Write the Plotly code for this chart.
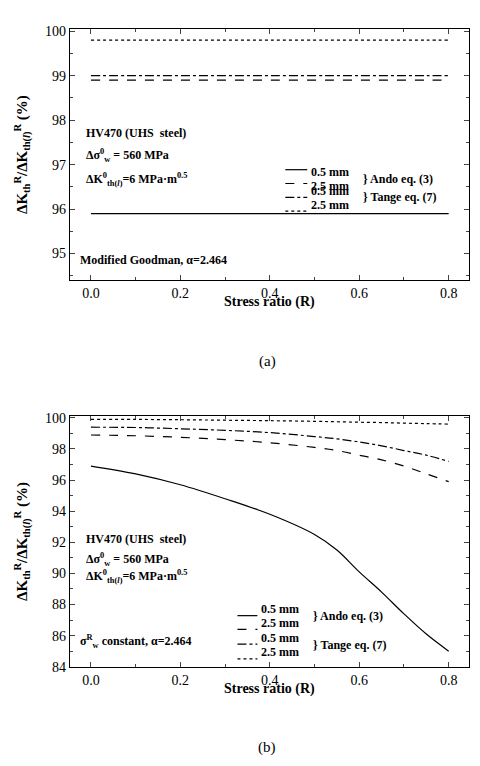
import plotly.graph_objects as go

R = [0.0, 0.1, 0.2, 0.3, 0.4, 0.5, 0.55, 0.6, 0.65, 0.7, 0.75, 0.8]
a_ando05 = [95.9]*len(R)
a_ando25 = [98.9]*len(R)
a_tange05 = [99.0]*len(R)
a_tange25 = [99.8]*len(R)
b_ando05 = [96.9, 96.4, 95.7, 94.8, 93.8, 92.5, 91.5, 90.1, 88.8, 87.4, 86.1, 85.0]
b_ando25 = [98.9, 98.85, 98.75, 98.6, 98.4, 98.1, 97.9, 97.6, 97.3, 96.9, 96.4, 95.9]
b_tange05 = [99.4, 99.38, 99.3, 99.2, 99.05, 98.8, 98.65, 98.45, 98.2, 97.9, 97.6, 97.2]
b_tange25 = [99.9, 99.9, 99.88, 99.85, 99.82, 99.78, 99.75, 99.72, 99.7, 99.66, 99.63, 99.6]

F = "Liberation Serif"
fig = go.Figure()
styles = ["solid", "dash", "dashdot", "dot"]
for ys, ax in [((a_ando05, a_ando25, a_tange05, a_tange25), ("x", "y")),
               ((b_ando05, b_ando25, b_tange05, b_tange25), ("x2", "y2"))]:
    for y, d in zip(ys, styles):
        fig.add_trace(go.Scatter(x=R, y=y, mode="lines", xaxis=ax[0], yaxis=ax[1],
                                 line=dict(color="black", width=1.2, dash=d, shape="spline"),
                                 showlegend=False))

axcommon = dict(showline=True, linecolor="black", linewidth=1, mirror="ticks", ticks="inside",
                ticklen=5, showgrid=False, zeroline=False,
                tickfont=dict(family=F, size=14, color="black"))
fig.update_layout(
    width=480, height=766, margin=dict(l=0, r=0, t=0, b=0),
    plot_bgcolor="white", paper_bgcolor="white",
    xaxis=dict(domain=[0.129, 0.960], anchor="y", range=[-0.047, 0.845], dtick=0.2, tickformat=".1f",
               minor=dict(dtick=0.1, ticks="inside", ticklen=3), **axcommon),
    yaxis=dict(domain=[0.646, 0.980], anchor="x", range=[94.4, 100.05], dtick=1,
               minor=dict(dtick=0.5, ticks="inside", ticklen=3), **axcommon),
    xaxis2=dict(domain=[0.129, 0.960], anchor="y2", range=[-0.047, 0.845], dtick=0.2, tickformat=".1f",
                minor=dict(dtick=0.1, ticks="inside", ticklen=3), **axcommon),
    yaxis2=dict(domain=[0.132, 0.465], anchor="x2", range=[84, 100.1], dtick=2,
                minor=dict(dtick=1, ticks="inside", ticklen=3), **axcommon),
)

def ann(x, y, text, size=13, xa="left", angle=0, bold=True):
    t = f"<b>{text}</b>" if bold else text
    fig.add_annotation(x=x, y=y, xref="paper", yref="paper", text=t, showarrow=False, xanchor=xa,
                       yanchor="middle", textangle=angle, font=dict(family=F, size=size, color="black"))

ytitle = "ΔK<sub>th</sub><sup>R</sup>/ΔK<sub>th(<i>l</i>)</sub><sup>R</sup> (%)"
for ydom, lab in [((0.646, 0.980), "(a)"), ((0.132, 0.465), "(b)")]:
    ann(0.03, sum(ydom)/2, ytitle, size=15, angle=-90, xa="center")
    ann(0.545, ydom[0]-0.029, "Stress ratio (R)", size=14, xa="center")
    ann(0.54, ydom[0]-0.108, lab, size=15, xa="center", bold=False)

def block(ax, ys, last):
    xr, yr = f"{ax} domain", f"y{'' if ax=='x' else '2'} domain"
    lines = ["<b>HV470 (UHS  steel)</b>", "<b>Δσ<sup>0</sup><sub>w</sub> = 560 MPa</b>",
             "<b>ΔK<sup>0</sup><sub>th(<i>l</i>)</sub>=6 MPa·m<sup>0.5</sup></b>"]
    for t, y in zip(lines, ys[:3]):
        fig.add_annotation(x=0.035, y=y, xref=xr, yref=yr, text=t, showarrow=False, xanchor="left",
                           font=dict(family=F, size=12, color="black"))
    fig.add_annotation(x=0.02, y=ys[3], xref=xr, yref=yr, text=last, showarrow=False, xanchor="left",
                       font=dict(family=F, size=12, color="black"))

block("x", [0.586, 0.496, 0.402, 0.043], "<b>Modified Goodman, α=2.464</b>")
block("x2", [0.51, 0.427, 0.32, 0.06], "<b>σ<sup>R</sup><sub>w</sub> constant, α=2.464</b>")

def legend(ax, x0, x1, ys):
    xr, yr = f"{ax} domain", f"y{'' if ax=='x' else '2'} domain"
    labs = ["0.5 mm", "2.5 mm", "0.5 mm", "2.5 mm"]
    for y, d, l in zip(ys, styles, labs):
        fig.add_shape(type="line", xref=xr, yref=yr, x0=x0, x1=x1, y0=y, y1=y,
                      line=dict(color="black", width=1.2, dash=d))
        fig.add_annotation(x=x1 + 0.005, y=y - 0.01, xref=xr, yref=yr, text=f"<b>{l}</b>", showarrow=False,
                           xanchor="left", font=dict(family=F, size=12, color="black"))
    for (ya, yb), t in [((ys[0], ys[1]), "} Ando eq. (3)"), ((ys[2], ys[3]), "} Tange eq. (7)")]:
        fig.add_annotation(x=x1 + 0.135, y=(ya+yb)/2 - 0.008, xref=xr, yref=yr, text=f"<b>{t}</b>",
                           showarrow=False, xanchor="left", font=dict(family=F, size=12, color="black"))

legend("x", 0.54, 0.595, [0.44, 0.385, 0.33, 0.275])
legend("x2", 0.42, 0.47, [0.204, 0.149, 0.09, 0.031])

fig.write_html("out.html")
